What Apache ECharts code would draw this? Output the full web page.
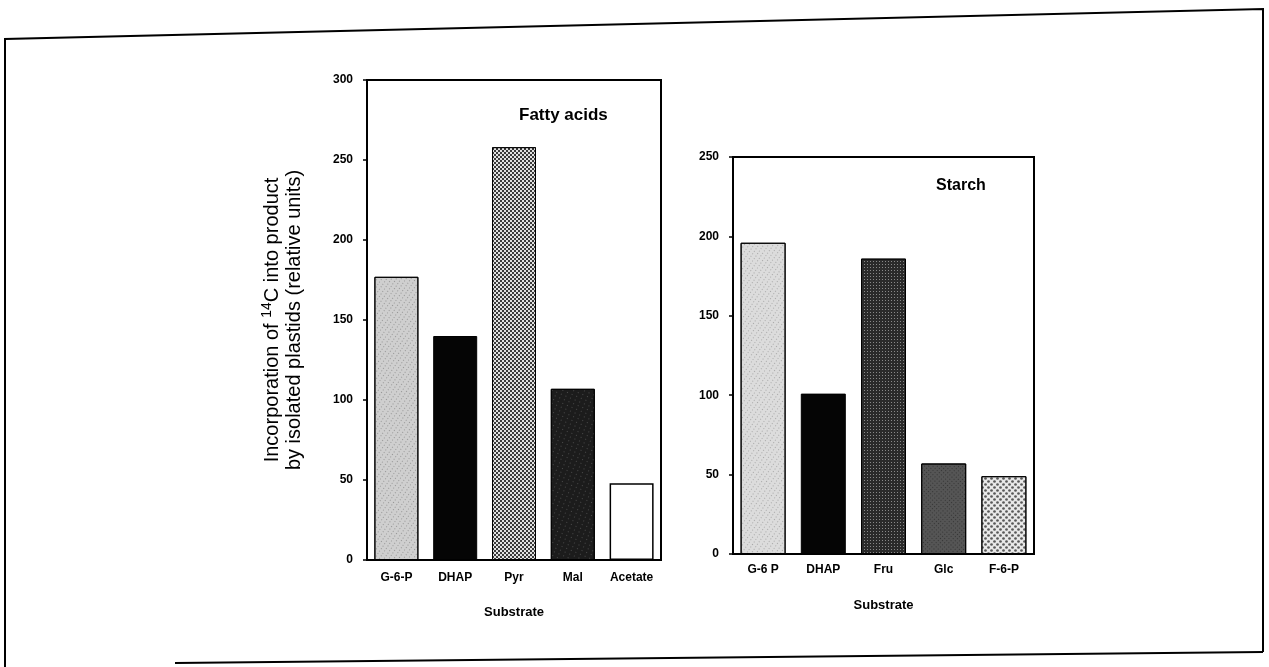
<!DOCTYPE html>
<html>
<head>
<meta charset="utf-8">
<script src="https://cdn.jsdelivr.net/npm/echarts@6/dist/echarts.min.js"></script>
<style>html,body{margin:0;padding:0;background:#fff;}#c{width:1269px;height:667px;}</style>
</head>
<body>
<div id="c"></div>
<script>
// ---- data ----
const fattyCategories = ['G-6-P', 'DHAP', 'Pyr', 'Mal', 'Acetate'];
const fattyValues = [177, 140, 258, 107, 48];
const starchCategories = ['G-6 P', 'DHAP', 'Fru', 'Glc', 'F-6-P'];
const starchValues = [196, 101, 186, 57, 49];
const fattyTicks = [0, 50, 100, 150, 200, 250, 300];
const starchTicks = [0, 50, 100, 150, 200, 250];

// ---- styles ----
const FONT = 'Liberation Sans';
const fattyStyles = [
  { color: '#cfcfcf', borderColor: '#000', borderWidth: 1, decal: { symbol: 'rect', symbolSize: 1, color: 'rgba(80,80,80,0.45)', dashArrayX: [1, 3], dashArrayY: [1, 2], rotation: 0.6 } },
  { color: '#050505', borderColor: '#000', borderWidth: 1 },
  { color: '#3a3a3a', borderColor: '#000', borderWidth: 1, decal: { symbol: 'rect', symbolSize: 1, color: 'rgba(255,255,255,0.85)', dashArrayX: [[2, 2], [0, 2, 2, 0]], dashArrayY: [2, 0] } },
  { color: '#1c1c1c', borderColor: '#000', borderWidth: 1, decal: { symbol: 'rect', symbolSize: 1, color: 'rgba(120,120,120,0.5)', dashArrayX: [1, 4], dashArrayY: [1, 3], rotation: 0.4 } },
  { color: '#ffffff', borderColor: '#000', borderWidth: 1.5 }
];
const starchStyles = [
  { color: '#dcdcdc', borderColor: '#000', borderWidth: 1, decal: { symbol: 'rect', symbolSize: 1, color: 'rgba(90,90,90,0.4)', dashArrayX: [1, 3], dashArrayY: [1, 2], rotation: 0.6 } },
  { color: '#050505', borderColor: '#000', borderWidth: 1 },
  { color: '#2a2a2a', borderColor: '#000', borderWidth: 1, decal: { symbol: 'rect', symbolSize: 1, color: 'rgba(200,200,200,0.6)', dashArrayX: [1, 2], dashArrayY: [1, 2] } },
  { color: '#555555', borderColor: '#000', borderWidth: 1, decal: { symbol: 'rect', symbolSize: 1, color: 'rgba(20,20,20,0.5)', dashArrayX: [1, 2], dashArrayY: [1, 2], rotation: 0.8 } },
  { color: '#e8e8e8', borderColor: '#000', borderWidth: 1, decal: { symbol: 'circle', symbolSize: 0.9, color: 'rgba(40,40,40,0.75)', dashArrayX: [[3, 3], [0, 3, 3, 0]], dashArrayY: [3, 0] } }
];

const axisLabelStyle = { color: '#000', fontFamily: FONT, fontSize: 12, fontWeight: 'bold' };

const chart = echarts.init(document.getElementById('c'));
chart.setOption({
  backgroundColor: '#fff',
  animation: false,
  title: [
    { text: 'Fatty acids', left: 514, top: 102, textStyle: { fontFamily: FONT, fontSize: 17, fontWeight: 'bold', color: '#000' } },
    { text: 'Starch', left: 931, top: 173, textStyle: { fontFamily: FONT, fontSize: 16, fontWeight: 'bold', color: '#000' } }
  ],
  grid: [
    { left: 367, top: 80, width: 294, height: 480, show: true, borderColor: '#000', borderWidth: 2, backgroundColor: 'transparent' },
    { left: 733, top: 157, width: 301, height: 397, show: true, borderColor: '#000', borderWidth: 2, backgroundColor: 'transparent' }
  ],
  xAxis: [
    { type: 'category', gridIndex: 0, data: fattyCategories, axisTick: { show: false },
      axisLine: { lineStyle: { color: '#000', width: 2 } },
      axisLabel: Object.assign({ margin: 12 }, axisLabelStyle),
      name: 'Substrate', nameLocation: 'middle', nameGap: 46,
      nameTextStyle: { color: '#000', fontFamily: FONT, fontSize: 13, fontWeight: 'bold' } },
    { type: 'category', gridIndex: 1, data: starchCategories, axisTick: { show: false },
      axisLine: { lineStyle: { color: '#000', width: 2 } },
      axisLabel: Object.assign({ margin: 10 }, axisLabelStyle),
      name: 'Substrate', nameLocation: 'middle', nameGap: 45,
      nameTextStyle: { color: '#000', fontFamily: FONT, fontSize: 13, fontWeight: 'bold' } }
  ],
  yAxis: [
    { type: 'value', gridIndex: 0, min: fattyTicks[0], max: fattyTicks[fattyTicks.length - 1], interval: 50,
      splitLine: { show: false },
      axisLine: { show: true, lineStyle: { color: '#000', width: 2 } },
      axisTick: { show: true, length: 4, lineStyle: { color: '#000', width: 1.5 } },
      axisLabel: Object.assign({ margin: 14 }, axisLabelStyle),
      name: '{a|Incorporation of }{sup|14}{a|C into product}\n{a|by isolated plastids (relative units)}',
      nameLocation: 'middle', nameGap: 62, nameRotate: 90,
      nameTextStyle: { color: '#000', fontFamily: FONT, fontSize: 20, lineHeight: 22,
        rich: {
          a: { fontFamily: FONT, fontSize: 20, color: '#000', lineHeight: 22 },
          sup: { fontFamily: FONT, fontSize: 14, color: '#000', padding: [0, 0, 10, 0], lineHeight: 22 }
        } } },
    { type: 'value', gridIndex: 1, min: starchTicks[0], max: starchTicks[starchTicks.length - 1], interval: 50,
      splitLine: { show: false },
      axisLine: { show: true, lineStyle: { color: '#000', width: 2 } },
      axisTick: { show: true, length: 4, lineStyle: { color: '#000', width: 1.5 } },
      axisLabel: Object.assign({ margin: 14 }, axisLabelStyle) }
  ],
  series: [
    { type: 'bar', xAxisIndex: 0, yAxisIndex: 0, barWidth: 44,
      data: fattyValues.map((v, i) => ({ value: v, itemStyle: fattyStyles[i] })) },
    { type: 'bar', xAxisIndex: 1, yAxisIndex: 1, barWidth: 45,
      data: starchValues.map((v, i) => ({ value: v, itemStyle: starchStyles[i] })) }
  ],
  graphic: [
    { type: 'polyline', silent: true, shape: { points: [[5, 667], [5, 39], [1263, 9], [1263, 652]] }, style: { stroke: '#000', lineWidth: 2, fill: null } },
    { type: 'line', silent: true, shape: { x1: 175, y1: 663, x2: 1263, y2: 652 }, style: { stroke: '#000', lineWidth: 2 } }
  ]
});
</script>
</body>
</html>
